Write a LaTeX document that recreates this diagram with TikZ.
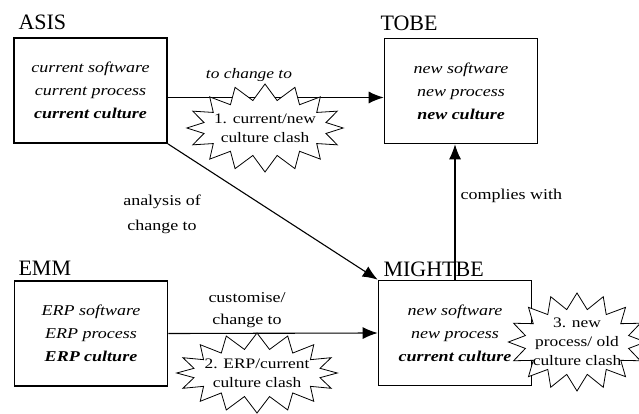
\documentclass[tikz,border=0pt]{standalone}
\usepackage{fontspec}
\setmainfont{Liberation Serif}
\newfontfamily\widefont[FakeStretch=1.2]{Liberation Serif}
\usetikzlibrary{shapes.symbols,arrows.meta}

\begin{document}
\begin{tikzpicture}[x=1pt,y=-1pt,
  model/.style={draw,line width=1.6pt,minimum width=153pt,minimum height=105pt,align=center,font=\widefont\fontsize{15}{23}\selectfont\itshape},
  title/.style={anchor=base west,font=\fontsize{22}{22}\selectfont},
  lbl/.style={align=center,font=\widefont\fontsize{15}{25}\selectfont},
  clash/.style={draw,fill=white,shape=starburst,random starburst=0,starburst points=16,starburst point height=16pt,align=center,inner sep=-7pt,line width=0.8pt,font=\widefont\fontsize{14.5}{19}\selectfont},
  flow/.style={-{Latex[length=15pt,width=12pt]},line width=1.1pt}]
\useasboundingbox (0,0) rectangle (639,414);

\node[model] (ASIS) at (90.5,90.5) {current software\\current process\\\textbf{current culture}};
\node[model] (TOBE) at (461,91) {new software\\new process\\\textbf{new culture}};
\node[model] (EMM) at (91,333.5) {ERP software\\ERP process\\\textbf{ERP culture}};
\node[model] (MIGHTBE) at (455,333) {new software\\new process\\\textbf{current culture}};

\node[title] (tASIS) at (15,30) {ASIS};
\node[title] (tTOBE) at (377,31) {TOBE};
\node[title] (tEMM) at (15,275) {EMM};
\node[title] (tMIGHTBE) at (380,276) {MIGHTBE};

\draw[flow] ([yshift=-7pt]ASIS.east) -- ([yshift=-7pt]ASIS.east -| TOBE.west);
\draw[flow] (ASIS.south east) -- (MIGHTBE.north west);
\draw[flow] (MIGHTBE.north) -- (MIGHTBE.north |- TOBE.south);
\draw[flow] (EMM.east) -- (MIGHTBE.west);

\node[lbl,font=\widefont\fontsize{14.5}{24}\selectfont\itshape] (l1) at (249,75) {to change to};
\node[lbl] (l2) at (162,214) {analysis of\\change to};
\node[lbl,anchor=west] (l3) at (457,196) {complies with};
\node[lbl,font=\widefont\fontsize{15}{22}\selectfont] (l4) at (247,310) {customise/\\change to};

% clashes
\node[clash,minimum width=148pt,minimum height=88pt] (c1) at (265,128) {1. current/new\\culture clash};
\node[clash,minimum width=146pt,minimum height=80pt] (c2) at (257,373) {2. ERP/current\\culture clash};
\node[clash,minimum width=130pt,minimum height=98pt] (c3) at (577,342) {3. new\\process/ old\\culture clash};

\end{tikzpicture}
\end{document}
